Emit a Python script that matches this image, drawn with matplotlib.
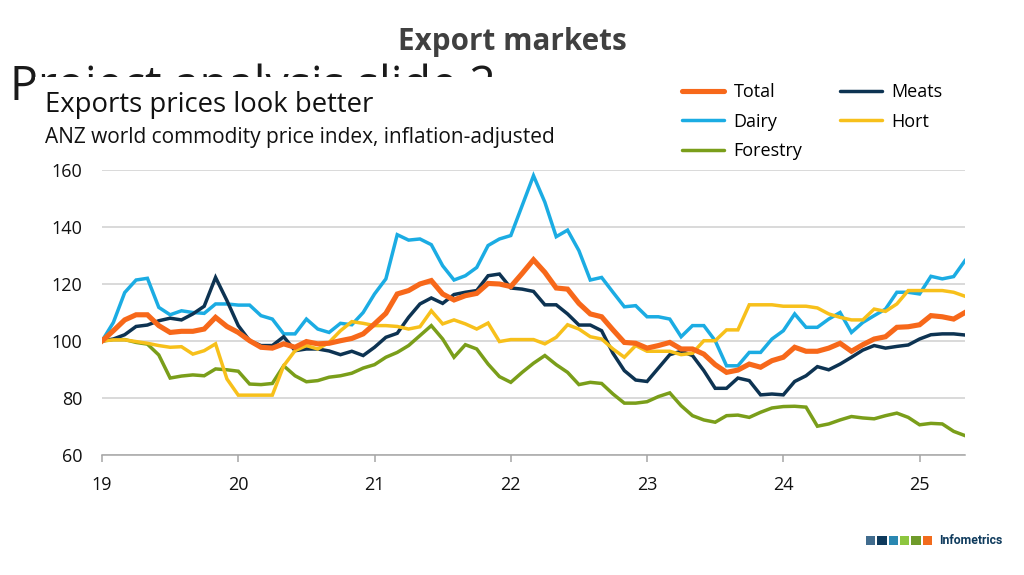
import numpy as np
import matplotlib
matplotlib.use("Agg")
import matplotlib.pyplot as plt
from matplotlib.patches import Rectangle
from matplotlib.lines import Line2D

plt.rcParams['font.family'] = ['Open Sans', 'DejaVu Sans']

# ---- data (monthly, Jan 2019 .. May 2025) ----
start_year = 2019
total = [100, 103.6, 107.4, 109.2, 109.2, 105.4, 103, 103.4, 103.4, 104.2, 108.3, 105.1, 103, 100.1,
         97.8, 97.5, 99, 97.8, 99.8, 99, 99.2, 100.1, 100.9, 102.5, 106, 109.7, 116.5, 117.7, 120,
         121.2, 116.5, 114.4, 115.9, 116.7, 120.2, 120, 119.1, 123.7, 128.5, 124.1, 118.6, 118.2,
         113.2, 109.5, 108.5, 103.9, 99.5, 99.2, 97.5, 98.4, 99.5, 97.2, 97.2, 95.4, 91.7, 89, 89.8,
         91.9, 90.8, 93.1, 94.3, 97.8, 96.4, 96.4, 97.5, 99.2, 96.4, 98.7, 100.7, 101.5, 104.8, 105,
         105.7, 108.9, 108.5, 107.7, 110]
dairy = [100, 106.5, 117, 121.4, 122, 111.8, 109.2, 110.6, 110, 109.7, 113, 113, 112.6, 112.6, 108.9,
         107.7, 102.5, 102.5, 107.7, 104.2, 103, 106.2, 105.7, 110, 116.5, 121.8, 137.3, 135.4, 135.8,
         133.8, 126.4, 121.4, 122.9, 125.8, 133.5, 135.8, 137, 147.5, 158, 148.7, 136.6, 138.9, 131.7,
         121.4, 122.3, 117.1, 112, 112.4, 108.5, 108.5, 107.7, 101.5, 105.4, 105.4, 100.1, 91.3, 91.3,
         96, 96, 100.7, 103.6, 109.5, 104.8, 104.8, 107.7, 110, 103, 106.5, 108.9, 111.2, 117.1,
         117.1, 116.5, 122.7, 121.8, 122.6, 128.2]
meats = [100, 100.7, 102.2, 105.1, 105.6, 107.1, 108, 107.4, 109.5, 112.2, 122.3, 114.2, 105.4, 100.1,
         98.4, 98.4, 101.5, 96.6, 97.2, 97.2, 96.5, 95.2, 96.4, 94.9, 97.8, 101.3, 102.7, 108.3, 113,
         115.1, 113.2, 116.3, 117.1, 117.7, 122.9, 123.5, 118.6, 118.2, 117.4, 112.7, 112.7, 109.5,
         105.6, 105.6, 103.6, 95.7, 89.6, 86.3, 85.8, 90.5, 95.2, 96.4, 94.9, 89.6, 83.4, 83.4, 87,
         86.1, 81.1, 81.4, 81.1, 85.8, 87.8, 91, 89.9, 91.9, 94.3, 96.8, 98.4, 97.5, 98.1, 98.6,
         100.7, 102.2, 102.5, 102.5, 102.1]
hort = [100, 100.4, 100.4, 99.8, 99.2, 98.4, 97.8, 98, 95.4, 96.6, 99, 86.7, 81, 81, 81, 81, 91.3,
        96.6, 98.4, 97.2, 99.5, 103.6, 106.8, 106.2, 105.4, 105.4, 105.1, 104.2, 105, 110.6, 106,
        107.4, 106, 104.2, 106.3, 99.8, 100.5, 100.5, 100.5, 99, 101.3, 105.7, 104.2, 101.5, 100.7,
        97.2, 94.3, 98.4, 96.4, 96.4, 96.4, 95.2, 95.7, 100.1, 100.1, 103.9, 103.9, 112.7, 112.7,
        112.7, 112.2, 112.2, 112.2, 111.6, 109.5, 108.3, 107.4, 107.4, 111.2, 110.4, 113, 117.7,
        117.7, 117.7, 117.7, 117.1, 115.7]
forestry = [100, 100.5, 100.5, 99.5, 98.9, 95.1, 87, 87.7, 88.1, 87.8, 90.2, 89.9, 89.4, 84.9, 84.7,
            85.1, 91.3, 87.8, 85.7, 86.1, 87.3, 87.8, 88.7, 90.5, 91.7, 94.3, 96, 98.4, 101.9, 105.4,
            100.7, 94.3, 98.7, 97.2, 91.9, 87.5, 85.5, 89, 92.2, 94.9, 91.7, 89, 84.7, 85.5, 85.1,
            81.4, 78.2, 78.2, 78.7, 80.5, 81.8, 77.3, 73.8, 72.3, 71.5, 73.8, 74, 73.2, 75, 76.5, 77,
            77.1, 76.8, 70.1, 70.9, 72.3, 73.5, 73, 72.7, 73.8, 74.7, 73.2, 70.6, 71.1, 70.9, 68.3, 66.8]

series_names = ["Total", "Dairy", "Forestry", "Meats", "Hort"]
series_data = [total, dairy, forestry, meats, hort]
series_colors = ["#F7681A", "#1BACE3", "#7A9E1A", "#0D3352", "#F7C01B"]
series_widths = [3.7, 2.5, 2.5, 2.5, 2.5]

x_ticks = [2019, 2020, 2021, 2022, 2023, 2024, 2025]
x_ticklabels = ["19", "20", "21", "22", "23", "24", "25"]
y_ticks = [60, 80, 100, 120, 140, 160]

logo_colors = ["#416C8E", "#0E3A5C", "#2A88B2", "#8DC63F", "#6F9B2A", "#F26B1D"]

# ---- figure ----
W, H = 1024, 575
fig = plt.figure(figsize=(W / 100, H / 100), dpi=100)
fig.patch.set_facecolor("white")

def fx(px):
    return px / W

def fy(py):
    return 1 - py / H

# placeholder text partially hidden behind the chart picture
fig.text(fx(10), fy(100), "Project analysis slide 2", fontsize=33.5, color="#1a1a1a",
         va="baseline", ha="left", zorder=0.2)
fig.patches.append(Rectangle((fx(35), 0), 1 - fx(35), fy(77), transform=fig.transFigure,
                             facecolor="white", edgecolor="none", zorder=0.5))

fig.text(0.5, fy(42), "Export markets", fontsize=21.3, fontweight="bold", color="#404040",
         ha="center", va="center", zorder=3)
fig.text(fx(45), fy(112), "Exports prices look better", fontsize=19.8, color="#111111",
         ha="left", va="baseline", zorder=3)
fig.text(fx(45), fy(143), "ANZ world commodity price index, inflation-adjusted", fontsize=15,
         color="#111111", ha="left", va="baseline", zorder=3)

ax = fig.add_axes([fx(102), fy(455), fx(965) - fx(102), fy(170) - fy(455)])
ax.set_zorder(2)
ax.patch.set_alpha(0)

n = len(total)
x = start_year + np.arange(n) / 12.0
for name, data, c, lw in zip(series_names, series_data, series_colors, series_widths):
    z = 4 if name == "Total" else 3
    ax.plot(x, data, color=c, lw=lw, label=name, solid_joinstyle="miter", zorder=z)

ax.set_xlim(start_year, start_year + (n - 1) / 12.0)
ax.set_ylim(60, 160)
ax.set_yticks(y_ticks)
ax.set_xticks(x_ticks)
ax.set_xticklabels(x_ticklabels)
ax.yaxis.grid(True, color="#CFCFCF", lw=1.1)
ax.set_axisbelow(True)
for s in ["top", "right", "left"]:
    ax.spines[s].set_visible(False)
ax.spines["bottom"].set_color("#A6A6A6")
ax.spines["bottom"].set_linewidth(1.1)
ax.tick_params(axis="y", length=0, pad=14, labelsize=13, labelcolor="#111111")
ax.tick_params(axis="x", length=5, width=1.1, color="#A6A6A6", direction="out", pad=10,
               labelsize=13, labelcolor="#111111")

handles = [Line2D([0], [0], color=c, lw=lw, solid_capstyle="round")
           for c, lw in zip(series_colors, series_widths)]
fig.legend(handles, series_names, loc="upper left", bbox_to_anchor=(fx(682), fy(83)),
           ncol=2, frameon=False, fontsize=13, handlelength=2.3, handletextpad=0.55,
           labelspacing=0.64, columnspacing=2.1, borderpad=0, borderaxespad=0)

# logo
for k, c in enumerate(logo_colors):
    fig.patches.append(Rectangle((fx(866 + k * 11.3), fy(545)), fx(9.3), 9 / H,
                                 transform=fig.transFigure, facecolor=c, edgecolor="none",
                                 zorder=3))
fig.text(fx(939), fy(540), "Infometrics", family=["Roboto", "DejaVu Sans"], fontweight="bold",
         fontsize=8.8, color="#0E3A5C", ha="left", va="center", zorder=3)

fig.savefig("out.png", dpi=100, facecolor="white")
